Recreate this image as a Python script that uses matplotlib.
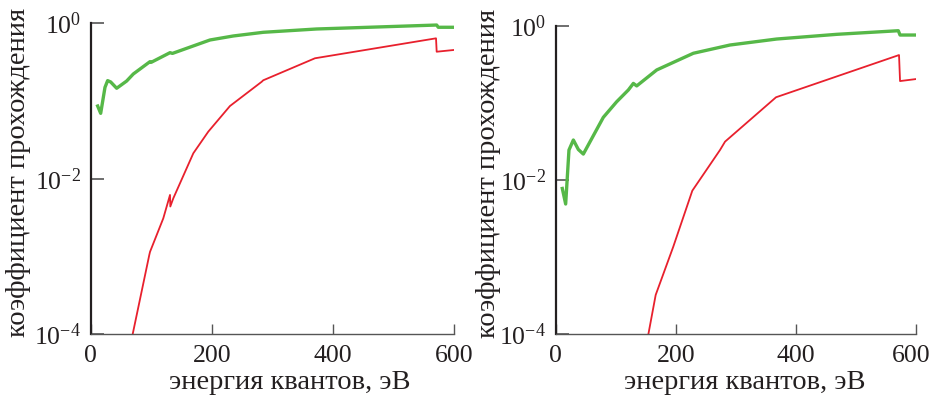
import matplotlib
matplotlib.use("Agg")
import matplotlib.pyplot as plt
import matplotlib.transforms as mtransforms
import numpy as np

plt.rcParams["font.family"] = "Liberation Serif"
plt.rcParams["mathtext.fontset"] = "custom"
plt.rcParams["mathtext.rm"] = "Liberation Serif"
plt.rcParams["mathtext.it"] = "Liberation Serif:italic"

# left panel
green_a_x = [11.5, 16.5, 23.6, 28, 33, 42.9, 59.4, 70.4, 97.9, 100, 131, 135,
             197, 235.5, 285, 373, 571.4, 574, 600]
green_a_y = [0.0863, 0.0695, 0.150, 0.183, 0.176, 0.146, 0.181, 0.223, 0.321,
             0.315, 0.419, 0.410, 0.61, 0.687, 0.766, 0.845, 0.95, 0.889, 0.889]
red_a_x = [69.3, 96.8, 98, 119.9, 131, 131.5, 136.4, 169.5, 194.2, 230, 282.4,
           285, 370.4, 570.3, 571.4, 600]
red_a_y = [1.0e-4, 1.05e-3, 1.15e-3, 3.1e-3, 6.2e-3, 4.4e-3, 5.6e-3, 0.0213,
           0.0404, 0.0863, 0.177, 0.185, 0.355, 0.641, 0.431, 0.454]

# right panel
green_b_x = [11, 16.6, 22.1, 29.4, 37.7, 46, 79.3, 101.5, 121, 129.3, 134.9,
             168.2, 229.2, 290.3, 368, 468, 570.5, 573.4, 600]
green_b_y = [7.8e-3, 4.9e-3, 0.0246, 0.0332, 0.025, 0.0218, 0.0653, 0.104,
             0.148, 0.18, 0.167, 0.269, 0.443, 0.567, 0.678, 0.78, 0.869,
             0.764, 0.764]
red_b_x = [154.3, 166.5, 195.8, 227.5, 273.6, 282, 366.9, 571.7, 573.4, 600]
red_b_y = [1.0e-4, 3.24e-4, 1.37e-3, 7.3e-3, 0.0246, 0.0316, 0.119, 0.42,
           0.193, 0.205]

xticks = [0, 200, 400, 600]
yticks = [1e-4, 1e-2, 1e0]

GREEN = "#56b848"
RED = "#e8202d"
INK = "#231f20"

fig = plt.figure(figsize=(9.33, 3.99), dpi=100)
ax1 = fig.add_axes([0.0972, 0.1622, 0.3894, 0.7794])
ax2 = fig.add_axes([0.5956, 0.1622, 0.3862, 0.7726])

panels = [
    (ax1, green_a_x, green_a_y, red_a_x, red_a_y, -0.163, 0.548),
    (ax2, green_b_x, green_b_y, red_b_x, red_b_y, -0.151, 0.525),
]

for ax, gx, gy, rx, ry, ylab_x, xlab_x in panels:
    ax.plot(gx, gy, color=GREEN, linewidth=2.4, solid_joinstyle="round")
    ax.plot(rx, ry, color=RED, linewidth=1.3)

    ax.set_yscale("log")
    ax.set_xlim(0, 600)
    ax.set_ylim(1e-4, 1)
    ax.set_xticks(xticks)
    ax.set_yticks(yticks)
    ax.yaxis.set_minor_locator(matplotlib.ticker.NullLocator())

    ax.spines["top"].set_visible(False)
    ax.spines["right"].set_visible(False)
    ax.spines["left"].set_linewidth(1.6)
    ax.spines["left"].set_color(INK)
    ax.spines["bottom"].set_linewidth(1.0)
    ax.spines["bottom"].set_color("#555555")

    ax.tick_params(axis="x", direction="in", length=7, width=1.0,
                   color="#555555", labelsize=18.5, labelcolor=INK, pad=8)
    ax.tick_params(axis="y", direction="in", length=9, width=1.2,
                   color="#555555", labelsize=18.5, labelcolor=INK, pad=7)

    ax.set_xlabel("энергия квантов, эВ", fontsize=20.5, color=INK)
    ax.set_ylabel("коэффициент прохождения", fontsize=20.5, color=INK)
    ax.xaxis.set_label_coords(xlab_x, -0.115)
    ax.yaxis.set_label_coords(ylab_x, 0.522)

# the last "600" sits a little left of its tick, as in the original
shift = mtransforms.ScaledTranslation(-5 / 100, 0, fig.dpi_scale_trans)
last = ax2.get_xticklabels()[-1]
last.set_transform(last.get_transform() + shift)

fig.savefig("out.png", dpi=100)
